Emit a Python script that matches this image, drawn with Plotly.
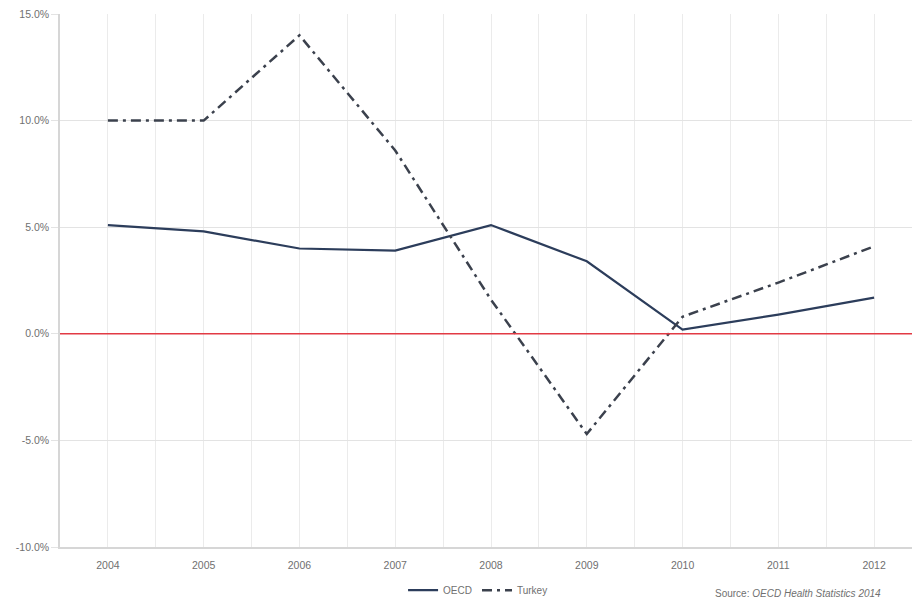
import plotly.graph_objects as go

years = [2004, 2005, 2006, 2007, 2008, 2009, 2010, 2011, 2012]
oecd = [5.1, 4.8, 4.0, 3.9, 5.1, 3.4, 0.2, 0.9, 1.7]
turkey = [10.0, 10.0, 14.0, 8.6, 1.6, -4.7, 0.8, 2.4, 4.1]
y_ticks = [15, 10, 5, 0, -5, -10]
y_labels = ["15.0%", "10.0%", "5.0%", "0.0%", "-5.0%", "-10.0%"]

fig = go.Figure()
fig.add_trace(go.Scatter(x=years, y=oecd, mode="lines", name="OECD",
                         line=dict(color="#2c3d5b", width=2.2)))
fig.add_trace(go.Scatter(x=years, y=turkey, mode="lines", name="Turkey",
                         line=dict(color="#3b414d", width=2.5, dash="10px,5px,3px,5px")))
fig.add_shape(type="line", xref="paper", x0=0, x1=1, yref="y", y0=0, y1=0,
              line=dict(color="#e23a44", width=1.5))

# page body has an 8px margin; figure sized/offset to match the reference frame
fig.update_layout(
    width=914, height=601,
    margin=dict(l=52, r=0, t=2, b=62),
    paper_bgcolor="white", plot_bgcolor="white",
    font=dict(family="Liberation Sans, Arial, sans-serif", size=10, color="#707070"),
    showlegend=True,
    legend=dict(orientation="h", x=0.485, y=-0.081, xanchor="center", yanchor="middle",
                font=dict(size=10, color="#707070"), tracegroupgap=0),
    xaxis=dict(range=[2003.5, 2012.5], tickvals=years, ticktext=[str(y) for y in years],
               showgrid=True, gridcolor="#ebebeb", gridwidth=1,
               minor=dict(tick0=2003.5, dtick=1, showgrid=True, gridcolor="#ebebeb"),
               showline=True, linecolor="#d6d6d6", linewidth=1.5, zeroline=False,
               ticks="", ticklabelstandoff=8, tickfont=dict(size=10.5, color="#707070")),
    yaxis=dict(range=[-10, 15], tickvals=y_ticks, ticktext=y_labels,
               showgrid=True, gridcolor="#e3e3e3", gridwidth=1,
               showline=True, linecolor="#d6d6d6", linewidth=1.5, zeroline=False,
               ticks="outside", ticklen=7, tickcolor="#e3e3e3", ticklabeloverflow="allow",
               tickfont=dict(size=10.5, color="#707070")),
)
fig.add_annotation(x=0.7575, y=-0.087, xref="paper", yref="paper", xanchor="left", yanchor="middle",
                   text="Source: <i>OECD Health Statistics 2014</i>", showarrow=False,
                   font=dict(size=10, color="#707070"))
fig.write_html("out.html")
